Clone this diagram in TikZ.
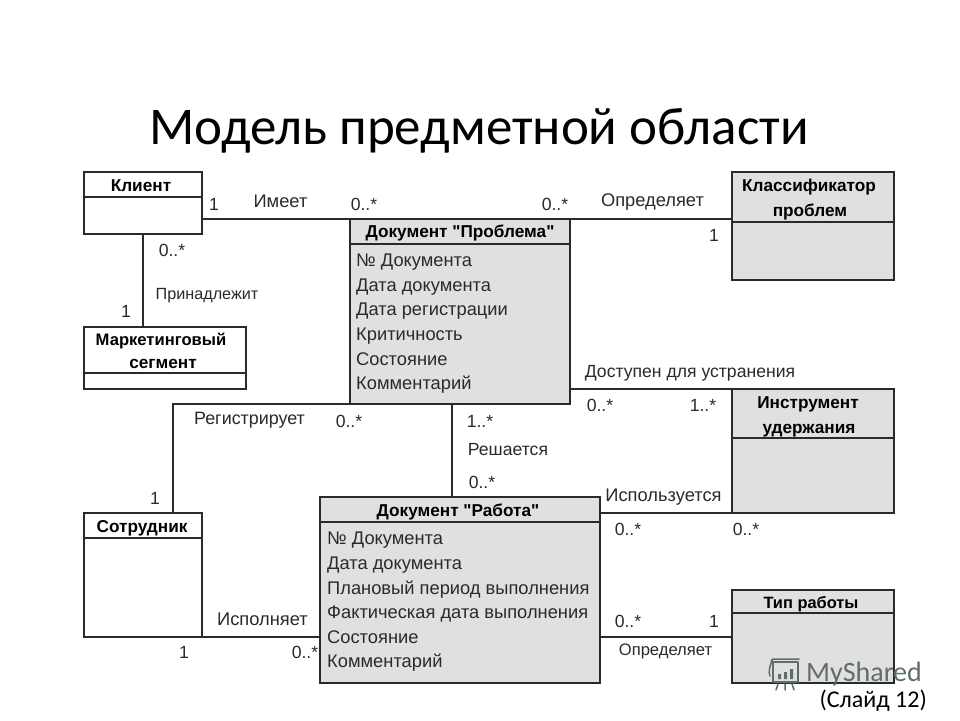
\documentclass[tikz,border=0pt]{standalone}
\usepackage{fontspec}
\setmainfont{Liberation Sans}
\newfontfamily\titlefont{Carlito}
\usetikzlibrary{calc}
\definecolor{boxgray}{HTML}{E0E0E0}
\definecolor{ink}{HTML}{2A2A2A}
\definecolor{wm}{HTML}{5F6F68}
\newcommand{\straightq}{\XeTeXglyph\XeTeXcharglyph 34\relax}
\newcommand{\umlbox}[7]{% name, x1, y1, x2, y2, divider y, fill
  \node[umlrect, fill=#7, minimum width=#4pt-#2pt, minimum height=#5pt-#3pt] (#1) at ({(#2+#4)/2},{(#3+#5)/2}) {};
  \draw[umlline] (#2,#6) -- (#4,#6);
}
\tikzset{
  umlrect/.style={draw=ink, line width=1.6pt, inner sep=0pt, outer sep=0pt},
  umlline/.style={draw=ink, line width=1.6pt},
  conn/.style={draw=ink, line width=1.3pt},
  head/.style={font=\fontsize{17.2}{20}\selectfont\bfseries, text=black, align=center, inner sep=0pt, text height=12pt, text depth=3pt, yshift=-2pt},
  lab/.style={font=\fontsize{17.6}{20}\selectfont, text=ink, inner sep=0pt, text height=12pt, text depth=3pt, yshift=-2pt},
  attr/.style={font=\fontsize{18.3}{20}\selectfont, text=ink, inner sep=0pt, anchor=west, text height=13pt, text depth=4pt, yshift=-2pt},
  labw/.style={lab, font=\fontsize{18.3}{20}\selectfont},
}
\begin{document}
\begin{tikzpicture}[x=1pt,y=-1pt]
\useasboundingbox (0,0) rectangle (960,720);
\fill[white] (0,0) rectangle (960,720);
\node[font=\titlefont\fontsize{53}{60}\selectfont, text=black, inner sep=0pt] (title) at (479,131) {Модель предметной области};

\umlbox{kl}{84}{172}{202}{234}{197}{white}
\umlbox{ms}{84}{327}{246}{389}{373}{white}
\umlbox{pr}{350}{219}{570}{404}{244}{boxgray}
\umlbox{kp}{732}{172}{894}{280}{222}{boxgray}
\umlbox{iu}{732}{389}{894}{513}{438}{boxgray}
\umlbox{so}{84}{513}{202}{637}{538}{white}
\umlbox{ra}{320}{497}{600}{683}{522}{boxgray}
\umlbox{tr}{732}{590}{894}{683}{613}{boxgray}

% connectors
\draw[conn] (kl.east |- pr.north) -- (pr.north west);
\draw[conn] (kl.south -| 143,0) -- (ms.north -| 143,0);
\draw[conn] (pr.north east) -- (kp.west |- pr.north);
\coordinate (pi) at (570,389);
\draw[conn] (pi) -- (iu.north west);
\coordinate (bend) at (173,404);
\draw[conn] (pr.south west) -- (bend) -- (so.north -| bend);
\draw[conn] (pr.south -| 452,0) -- (ra.north -| 452,0);
\draw[conn] (ra.east |- iu.south) -- (iu.south west);
\coordinate (rt) at (600,637);
\draw[conn] (rt) -- (tr.west |- rt);
\draw[conn] (so.south east) -- (ra.west |- so.south);

% headings
\node[head] (h1) at (141,185) {Клиент};
\node[head, font=\fontsize{16.6}{20}\selectfont\bfseries] (h2) at (161,339) {Маркетинговый};
\node[head] (h2b) at (163,362) {сегмент};
\node[head] (h3) at (460,231) {Документ \straightq Проблема\straightq};
\node[head] (h4) at (809,185) {Классификатор};
\node[head] (h4b) at (810,210) {проблем};
\node[head] (h5) at (808,402) {Инструмент};
\node[head] (h5b) at (809,427) {удержания};
\node[head] (h6) at (142,526) {Сотрудник};
\node[head] (h7) at (458,510) {Документ \straightq Работа\straightq};
\node[head, font=\fontsize{16.4}{20}\selectfont\bfseries] (h8) at (811,602) {Тип работы};

% attributes
\node[attr] (a1) at (356,260) {№ Документа};
\node[attr] (a2) at (356,285) {Дата документа};
\node[attr] (a3) at (356,309) {Дата регистрации};
\node[attr] (a4) at (356,334) {Критичность};
\node[attr] (a5) at (356,359) {Состояние};
\node[attr] (a6) at (356,383) {Комментарий};
\node[attr] (b1) at (327,538) {№ Документа};
\node[attr] (b2) at (327,563) {Дата документа};
\node[attr] (b3) at (327,588) {Плановый период выполнения};
\node[attr] (b4) at (327,612) {Фактическая дата выполнения};
\node[attr] (b5) at (327,637) {Состояние};
\node[attr] (b6) at (327,661) {Комментарий};

% connector labels
\node[lab] (l1) at (214,204) {1};
\node[labw] (l2) at (280.5,201) {Имеет};
\node[lab] (l3) at (364,204) {0..*};
\node[lab] (l4) at (172,250) {0..*};
\node[lab, font=\fontsize{16.2}{20}\selectfont] (l5) at (207,293) {Принадлежит};
\node[lab] (l6) at (126,311) {1};
\node[lab] (l7) at (555,204) {0..*};
\node[labw] (l8) at (652.5,200) {Определяет};
\node[lab] (l9) at (714,235) {1};
\node[lab] (l10) at (690,371) {Доступен для устранения};
\node[lab] (l11) at (600,405) {0..*};
\node[lab] (l12) at (703,405) {1..*};
\node[lab, font=\fontsize{17.9}{20}\selectfont] (l13) at (249.5,418) {Регистрирует};
\node[lab] (l14) at (349,421) {0..*};
\node[lab] (l15) at (480,421) {1..*};
\node[lab] (l16) at (508,449) {Решается};
\node[lab] (l17) at (482,482) {0..*};
\node[lab] (l18) at (155,498) {1};
\node[labw] (l19) at (663.5,495) {Используется};
\node[lab] (l20) at (628,529) {0..*};
\node[lab] (l21) at (746,529) {0..*};
\node[labw] (l22) at (262.5,619) {Исполняет};
\node[lab] (l23) at (184,652) {1};
\node[lab] (l24) at (305,652) {0..*};
\node[lab] (l25) at (628,621) {0..*};
\node[lab] (l26) at (714,621) {1};
\node[lab, font=\fontsize{16.6}{18}\selectfont] (l27) at (665.5,649) {Определяет};

% watermark
\begin{scope}[draw=wm, line width=1.5pt, line cap=round, line join=round]
  \draw (773,662) -- (798,662) -- (798,682) -- (773,682) -- cycle;
  \draw (773,662) .. controls (770,660) and (771,659) .. (776,659) -- (799,659);
  \draw (770,676) .. controls (768,672) and (770,666) .. (772,660);
  \draw (778,684) -- (776,690) (785,684) -- (785,690) (792,684) -- (794,690);
  \fill[wm] (778,674) rectangle (781,679) (784,672) rectangle (787,679) (790,669) rectangle (793,679);
\end{scope}
\node[font=\titlefont\fontsize{28}{30}\selectfont, text=wm, anchor=west, inner sep=0pt] (wmark) at (806,674) {MyShared};
\node[font=\titlefont\fontsize{24}{26}\selectfont, text=black, anchor=east, inner sep=0pt] (slide) at (927,701) {(Слайд 12)};
\end{tikzpicture}
\end{document}
